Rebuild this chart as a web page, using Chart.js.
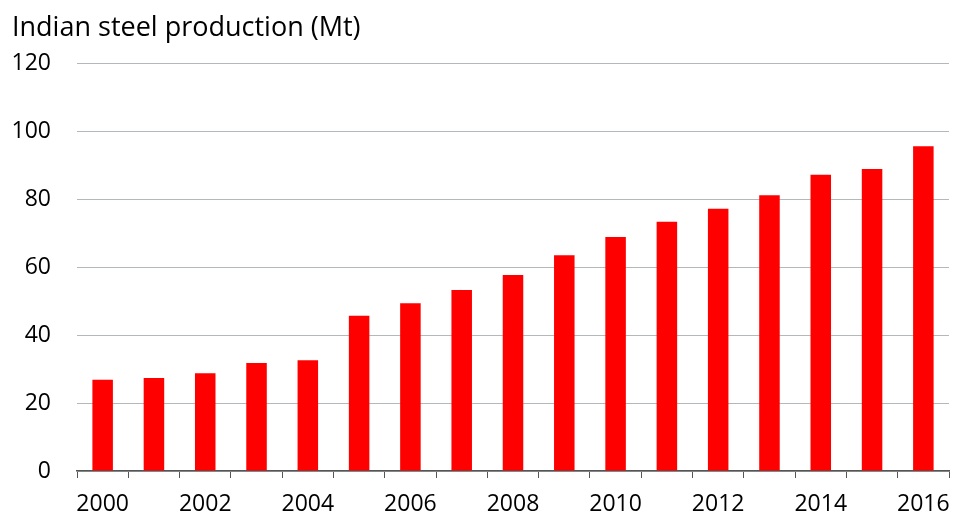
<!DOCTYPE html>
<html>
<head>
<meta charset="utf-8">
<script src="https://cdn.jsdelivr.net/npm/chart.js@4"></script>
<style>
  html, body { margin: 0; padding: 0; background: #fff; }
  #wrap { width: 953px; height: 515px; }
</style>
</head>
<body>
<div id="wrap"><canvas id="steelChart" width="953" height="515"></canvas></div>
<script>
	'use strict';

	// Indian steel production, million tonnes
	var years = ['2000', '2001', '2002', '2003', '2004', '2005', '2006', '2007', '2008',
		'2009', '2010', '2011', '2012', '2013', '2014', '2015', '2016'];
	var production = [26.9, 27.4, 28.8, 31.8, 32.6, 45.7, 49.4, 53.3, 57.7,
		63.5, 68.9, 73.4, 77.2, 81.2, 87.2, 88.9, 95.6];
	var yTicks = [0, 20, 40, 60, 80, 100, 120];

	var fontFamily = '"Open Sans", "Noto Sans", sans-serif';

	var ctx = document.getElementById('steelChart').getContext('2d');
	var steelChart = new Chart(ctx, {
		type: 'bar',
		data: {
			labels: years,
			datasets: [{
				data: production,
				backgroundColor: '#ff0000',
				borderWidth: 0,
				categoryPercentage: 1,
				barPercentage: 0.4
			}]
		},
		options: {
			responsive: false,
			animation: false,
			layout: {
				padding: { left: 12, right: 4, top: 12, bottom: 0 }
			},
			plugins: {
				legend: { display: false },
				tooltip: { enabled: false },
				title: {
					display: true,
					text: 'Indian steel production (Mt)',
					align: 'start',
					color: '#000',
					font: { family: fontFamily, size: 27, weight: 'normal' },
					padding: { top: 0, bottom: 19 }
				}
			},
			scales: {
				x: {
					grid: {
						offset: true,
						drawOnChartArea: false,
						drawTicks: true,
						tickLength: 7,
						color: '#555'
					},
					border: { color: '#555', width: 1.5 },
					ticks: {
						autoSkip: false,
						maxRotation: 0,
						color: '#000',
						padding: 13,
						font: { family: fontFamily, size: 23 },
						callback: function(val, i){
							return (i % 2 === 0) ? years[i] : '';
						}
					},
					afterFit: function(axis){
						axis.height = 44;
						axis.paddingLeft = 0;
						axis.paddingRight = 0;
					}
				},
				y: {
					min: yTicks[0],
					max: yTicks[yTicks.length - 1],
					grid: {
						color: '#b3b8bb',
						drawTicks: false
					},
					border: { display: false },
					afterBuildTicks: function(axis){
						axis.ticks = yTicks.map(function(v){ return { value: v }; });
					},
					ticks: {
						color: '#000',
						padding: 26,
						font: { family: fontFamily, size: 23 }
					},
					afterFit: function(axis){
						axis.width = 65;
					}
				}
			}
		}
	});
</script>
</body>
</html>
